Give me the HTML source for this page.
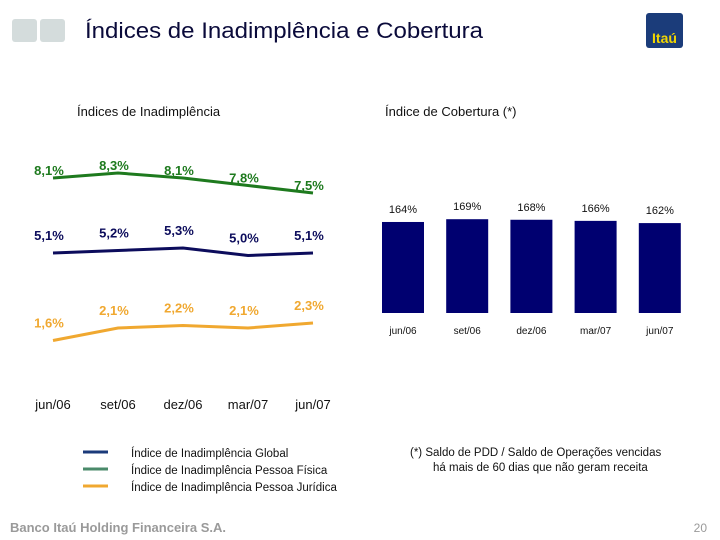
<!DOCTYPE html>
<html><head><meta charset="utf-8"><style>
body{margin:0;width:720px;height:540px;background:#fff;overflow:hidden;font-family:"Liberation Sans",sans-serif}
svg{display:block}
</style></head><body>
<svg id="s" width="720" height="540" xmlns="http://www.w3.org/2000/svg" font-family="Liberation Sans, sans-serif">
<rect x="12" y="19" width="25" height="23" rx="3" fill="#d4dcdc"/>
<rect x="40" y="19" width="25" height="23" rx="3" fill="#d4dcdc"/>
<text x="85" y="38" font-size="22" fill="#0a0a3a" textLength="398" lengthAdjust="spacingAndGlyphs">Índices de Inadimplência e Cobertura</text>
<rect x="646" y="13" width="37" height="35" rx="3" fill="#1b3c7a"/>
<text x="664.5" y="43" font-size="14" font-weight="bold" fill="#f2d600" text-anchor="middle">Itaú</text>
<text x="77" y="116" font-size="13" fill="#111">Índices de Inadimplência</text>
<text x="385" y="116" font-size="13" fill="#111">Índice de Cobertura (*)</text>
<g id="lc"></g>
<g id="bc"></g>
<g>
<line x1="83" y1="452" x2="108" y2="452" stroke="#1b3a7a" stroke-width="3"/>
<text x="131" y="457" font-size="11.5" fill="#111">Índice de Inadimplência Global</text>
<line x1="83" y1="469" x2="108" y2="469" stroke="#4a8a6a" stroke-width="3"/>
<text x="131" y="474" font-size="11.5" fill="#111">Índice de Inadimplência Pessoa Física</text>
<line x1="83" y1="486" x2="108" y2="486" stroke="#f0a830" stroke-width="3"/>
<text x="131" y="491" font-size="11.5" fill="#111">Índice de Inadimplência Pessoa Jurídica</text>
</g>
<text x="410" y="456" font-size="11.5" fill="#111">(*) Saldo de PDD / Saldo de Operações vencidas</text>
<text x="433" y="471" font-size="11.5" fill="#111">há mais de 60 dias que não geram receita</text>
<text x="10" y="532" font-size="13" font-weight="bold" fill="#9a9a9a">Banco Itaú Holding Financeira S.A.</text>
<text x="707" y="532" font-size="12" fill="#9a9a9a" text-anchor="end">20</text>
</svg>
<script>
const categories=["jun/06","set/06","dez/06","mar/07","jun/07"];
const pfValues=[8.1,8.3,8.1,7.8,7.5];
const globalValues=[5.1,5.2,5.3,5.0,5.1];
const pjValues=[1.6,2.1,2.2,2.1,2.3];
const coverageValues=[164,169,168,166,162];
const NS="http://www.w3.org/2000/svg";
function mk(t,a,p){const e=document.createElementNS(NS,t);for(const k in a)e.setAttribute(k,a[k]);p.appendChild(e);return e;}
const lc=document.getElementById('lc'),bc=document.getElementById('bc');
function lx(i){return 53+i*65;}
function ly(v){return 380.5-25*v;}
function fmt(v){return v.toFixed(1).replace('.',',')+'%';}
const series=[[pfValues,'#1e7a1e',-3,'pf'],[globalValues,'#0c0c5c',-13,'global'],[pjValues,'#f0a830',-13,'pj']];
series.forEach(s=>{
  const d=s[0].map((v,i)=>(i?'L':'M')+lx(i)+','+ly(v)).join(' ');
  const p=mk('path',{d:d,fill:'none',stroke:s[1],'stroke-width':3},lc);
  
  
  s[0].forEach((v,i)=>{
    const t=mk('text',{x:lx(i)-4,y:ly(v)+s[2],'font-size':13,'font-weight':'bold',fill:s[1],'text-anchor':'middle'},lc);
    t.textContent=fmt(v);
    
    
  });
});
categories.forEach((c,i)=>{
  const t=mk('text',{x:lx(i),y:409,'font-size':13,fill:'#111','text-anchor':'middle'},lc);
  t.textContent=c;
  
  
});
function bx(i){return 382+i*64.2;}
function bh(v){return v*0.555;}
const base=313;
coverageValues.forEach((v,i)=>{
  const h=bh(v);
  const r=mk('rect',{x:bx(i),y:base-h,width:42,height:h,fill:'#000070'},bc);
  
  
  const t=mk('text',{x:bx(i)+21,y:base-h-9,'font-size':11,fill:'#111','text-anchor':'middle'},bc);
  t.textContent=v+'%';
  
  
  const l=mk('text',{x:bx(i)+21,y:334,'font-size':10,fill:'#111','text-anchor':'middle'},bc);
  l.textContent=categories[i];
  
  
});
</script>
</body></html>
